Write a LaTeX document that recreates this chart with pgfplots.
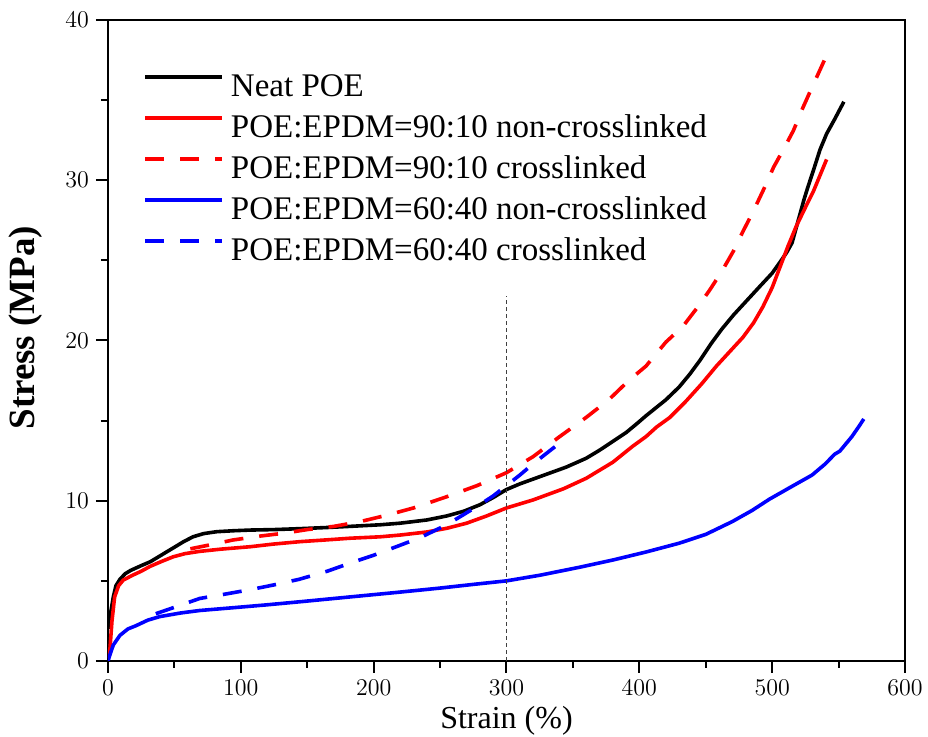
\documentclass[border=0pt]{standalone}
\usepackage{fontspec}
\setmainfont{Liberation Serif}
\usepackage{pgfplots}
\pgfplotsset{compat=1.18}
\begin{document}
\begin{tikzpicture}
\useasboundingbox (-54pt,-38pt) rectangle (410pt,330.5pt);
\begin{axis}[
  at={(0,0)}, anchor=south west,
  width=398.5pt, height=320.5pt, scale only axis,
  xmin=0, xmax=600, ymin=0, ymax=40,
  xtick={0,100,...,600}, ytick={0,10,...,40},
  minor x tick num=1, minor y tick num=1,
  tick align=outside, tick pos=left,
  major tick length=6pt, minor tick length=3.5pt,
  axis line style={line width=1pt},
  every tick/.append style={black, line width=1pt},
  every minor tick/.append style={black, line width=1pt},
  tick label style={font=\fontsize{13}{15}\selectfont},
  xlabel={Strain (\%)},
  ylabel={\textbf{Stress (MPa)}},
  xlabel style={at={(axis description cs:0.5,-0.105)}, anchor=base, inner sep=0pt, font=\fontsize{16}{18}\selectfont},
  ylabel style={at={(axis description cs:-0.0816,0.52)}, anchor=south, inner sep=0pt, font=\fontsize{18.5}{21}\selectfont},
  legend style={draw=none, fill=none, inner sep=0pt, at={(axis description cs:0.0439,0.919)}, anchor=north west,
    font=\fontsize{16.5}{19}\selectfont, row sep=5pt, column sep=3.5pt,
    nodes={inner sep=0pt, text height=12pt, text depth=3.5pt}},
  legend cell align=left,
  legend image code/.code={\draw[#1] (0pt,5.5pt) -- (38.5pt,5.5pt);},
  every axis plot/.append style={line width=1.8pt},
]
\addplot[black] coordinates {
(0.5,2.0) (2,3.0) (4,4.0) (6,4.7) (9,5.1) (13,5.45) (17,5.65) (25,5.95) (32,6.2) (40,6.6) (49,7.05) (57,7.45) (64,7.75) (72,7.95) (82,8.07) (95,8.13) (107,8.17) (125,8.2) (145,8.26) (165,8.33) (182,8.4) (205,8.5) (220,8.6) (240,8.8) (255,9.05) (268,9.35) (280,9.75) (290,10.2) (300,10.7) (310,11.05) (320,11.35) (330,11.65) (345,12.1) (360,12.65) (370,13.15) (380,13.7) (390,14.25) (398,14.8) (405,15.3) (420,16.3) (430,17.1) (438,17.9) (446,18.8) (454,19.8) (462,20.7) (471,21.6) (481,22.5) (491,23.4) (500,24.2) (506,24.9) (511,25.5) (515,26.1) (518,27) (521,27.9) (524,28.8) (527,29.6) (531,30.6) (536,31.9) (541,32.9) (547,33.8) (554,34.9)
};
\addlegendentry{Neat POE}
\addplot[red] coordinates {
(0,0.2) (1.5,0.8) (3,2.5) (5,4.0) (8,4.7) (11.5,5.05) (19,5.37) (25,5.6) (31.6,5.9) (40,6.2) (49,6.5) (58,6.7) (69,6.84) (85,6.98) (107,7.13) (125,7.3) (145,7.45) (165,7.56) (182,7.66) (205,7.75) (220,7.86) (240,8.05) (255,8.28) (270,8.6) (285,9.05) (300,9.55) (320,10.05) (343,10.75) (360,11.4) (380,12.4) (395,13.4) (405,14.0) (413,14.6) (423,15.2) (435,16.2) (447,17.3) (458,18.4) (468,19.3) (478,20.2) (486,21.1) (493,22.1) (500,23.3) (506,24.6) (512,25.9) (518,27.1) (525,28.3) (531,29.3) (536,30.3) (541,31.3)
};
\addlegendentry{POE:EPDM=90:10 non-crosslinked}
\addplot[red, dash pattern=on 9.5pt off 8pt] coordinates {
(62,7.0) (80,7.3) (94,7.55) (115,7.8) (132,7.97) (150,8.2) (170,8.4) (190,8.7) (210,9.1) (230,9.55) (255,10.25) (278,10.95) (300,11.75) (320,12.75) (340,14.0) (360,15.2) (377,16.3) (392,17.5) (405,18.4) (420,19.9) (433,20.9) (445,22.2) (453,23.15) (462,24.3) (471,25.6) (478,26.8) (486,28.1) (494,29.5) (501,30.8) (509,32.0) (516,33.1) (523,34.5) (530,35.8) (535,36.7) (541,37.8)
};
\addlegendentry{POE:EPDM=90:10 crosslinked}
\addplot[blue] coordinates {
(0,0) (1.5,0.4) (4,1.0) (9,1.6) (15,2.0) (21,2.2) (30,2.55) (39,2.77) (55,3.0) (69,3.15) (95,3.33) (119,3.5) (145,3.7) (170,3.9) (195,4.1) (220,4.3) (250,4.55) (275,4.78) (300,5.0) (325,5.35) (355,5.85) (380,6.3) (405,6.8) (430,7.35) (450,7.9) (470,8.7) (485,9.4) (498,10.1) (515,10.9) (530,11.6) (540,12.3) (547,12.9) (551,13.1) (555,13.5) (560,14.0) (565,14.6) (569,15.1)
};
\addlegendentry{POE:EPDM=60:40 non-crosslinked}
\addplot[blue, dash pattern=on 9.5pt off 8pt] coordinates {
(36,2.95) (50,3.35) (69,3.9) (90,4.2) (107,4.45) (125,4.75) (144,5.1) (165,5.6) (182,6.1) (200,6.6) (217,7.13) (235,7.7) (255,8.5) (277,9.6) (290,10.3) (300,10.95) (310,11.6) (320,12.3) (330,12.95) (340,13.6) (345,14.0)
};
\addlegendentry{POE:EPDM=60:40 crosslinked}
\addplot[black!75, line width=0.6pt, dash pattern=on 2pt off 1.5pt, forget plot] coordinates {(300,0) (300,22.8)};
\end{axis}
\end{tikzpicture}
\end{document}
